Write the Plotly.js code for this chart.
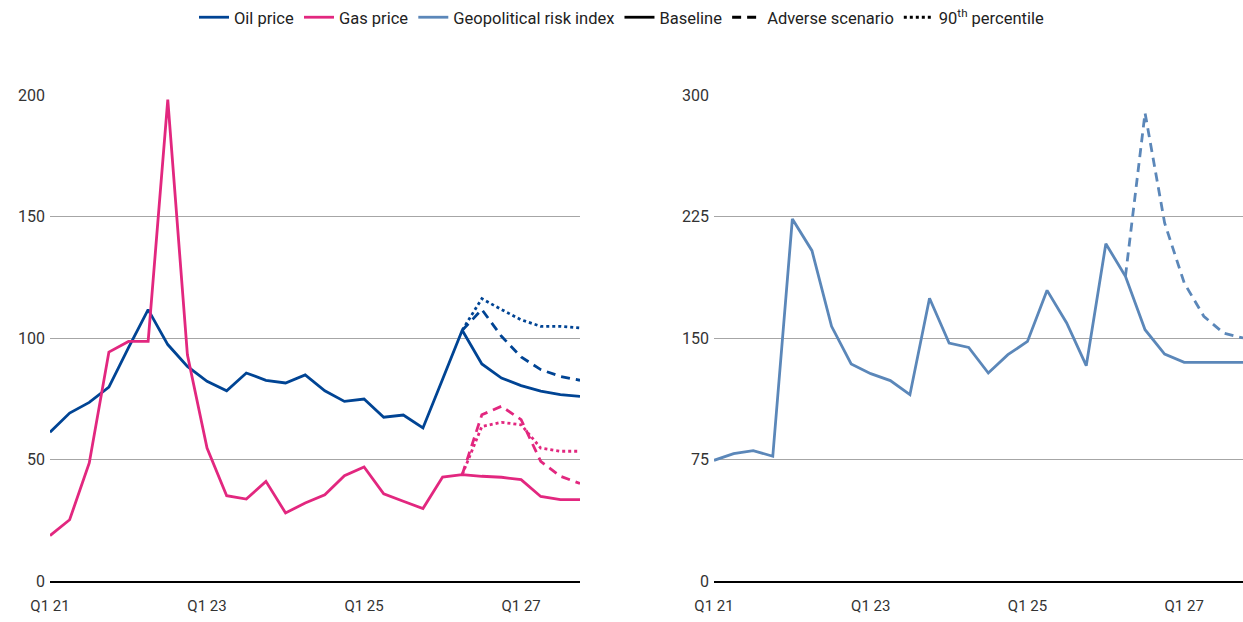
<!DOCTYPE html>
<html>
<head>
<meta charset="utf-8">
<script src="https://cdn.plot.ly/plotly-3.0.1.min.js"></script>
<style>
  html, body { margin: 0; padding: 0; background: #fff; }
  #chart { width: 1243px; height: 622px; }
</style>
</head>
<body>
<div id="chart"></div>
<script>
// Quarterly periods, Q1 2021 to Q4 2027
const quarters = [
  'Q1 21','Q2 21','Q3 21','Q4 21',
  'Q1 22','Q2 22','Q3 22','Q4 22',
  'Q1 23','Q2 23','Q3 23','Q4 23',
  'Q1 24','Q2 24','Q3 24','Q4 24',
  'Q1 25','Q2 25','Q3 25','Q4 25',
  'Q1 26','Q2 26','Q3 26','Q4 26',
  'Q1 27','Q2 27','Q3 27','Q4 27'
];
const tickQuarters = ['Q1 21','Q1 23','Q1 25','Q1 27'];

// Baseline paths
const oilBaseline = [61.2, 69.1, 73.5, 79.8, 96.0, 111.7, 97.3, 88.3, 82.2, 78.3,
                     85.6, 82.6, 81.5, 84.8, 78.3, 73.9, 74.9, 67.4, 68.3, 63.0,
                     83.0, 103.2, 89.3, 83.5, 80.4, 78.1, 76.7, 76.0];
const gasBaseline = [18.7, 25.2, 48.6, 94.2, 98.6, 98.6, 198.1, 93.1, 54.7, 35.1,
                     33.7, 41.0, 28.0, 32.1, 35.5, 43.3, 46.9, 35.9, 32.8, 29.8,
                     42.8, 43.8, 43.1, 42.7, 41.7, 34.8, 33.5, 33.5];
const gprBaseline = [74.5, 78.6, 80.5, 77.0, 223.5, 203.9, 157.2, 134.0, 128.0, 123.7,
                     115.0, 174.5, 146.9, 144.2, 128.4, 139.7, 147.9, 179.4, 159.3, 132.9,
                     208.2, 188.1, 155.1, 140.1, 135.0, 135.0, 135.0, 135.0];

// Scenario paths, starting from Q2 26
const scenarioQuarters = quarters.slice(21);
const oilAdverse = [103.2, 111.7, 100.7, 92.2, 87.0, 84.2, 82.6];
const oilP90     = [103.2, 116.2, 111.7, 107.5, 104.8, 104.8, 104.1];
const gasAdverse = [43.8, 68.4, 71.9, 66.4, 49.2, 43.1, 40.1];
const gasP90     = [43.8, 63.6, 65.3, 64.3, 54.7, 53.4, 53.4];
const gprAdverse = [188.1, 288.9, 221.0, 184.0, 163.4, 153.1, 150.0];

const OIL = '#004494', GAS = '#e2277f', GPR = '#5b87b9';
const W = 2.8;
const DASH = '9px,6px';
const DOT = '3px,3px';

function line(x, y, color, dash, axis, name, showlegend) {
  return {
    type: 'scatter', mode: 'lines', x: x, y: y,
    xaxis: axis === 2 ? 'x2' : 'x', yaxis: axis === 2 ? 'y2' : 'y',
    name: name || '', showlegend: !!showlegend, hoverinfo: 'skip',
    line: { color: color, width: W, dash: dash || 'solid' }
  };
}

const traces = [
  line(quarters, oilBaseline, OIL, 'solid', 1, 'Oil price', true),
  line(quarters, gasBaseline, GAS, 'solid', 1, 'Gas price', true),
  line(quarters, gprBaseline, GPR, 'solid', 2, 'Geopolitical risk index', true),
  line(scenarioQuarters, oilAdverse, OIL, DASH, 1),
  line(scenarioQuarters, oilP90, OIL, DOT, 1),
  line(scenarioQuarters, gasAdverse, GAS, DASH, 1),
  line(scenarioQuarters, gasP90, GAS, DOT, 1),
  line(scenarioQuarters, gprAdverse, GPR, DASH, 2),
  // style keys
  line([null], [null], '#000', 'solid', 1, 'Baseline', true),
  line([null], [null], '#000', DASH, 1, 'Adverse scenario', true),
  line([null], [null], '#000', DOT, 1, '90<sup>th</sup> percentile', true)
];

const FONT = 'Roboto, "Liberation Sans", sans-serif';

function xAxis(domain, anchor) {
  return {
    domain: domain, anchor: anchor, type: 'category',
    categoryorder: 'array', categoryarray: quarters,
    range: [0, 27], tickvals: tickQuarters, ticktext: tickQuarters,
    showgrid: false, zeroline: false, showline: true,
    linecolor: '#000', linewidth: 1.5,
    ticks: '', ticklabelstandoff: 10,
    tickfont: { family: FONT, size: 15, color: '#333' }, fixedrange: true
  };
}
function yAxis(max, step, anchor) {
  return {
    anchor: anchor, range: [0, max], dtick: step, tick0: 0,
    showgrid: true, gridcolor: '#a6a6a6', gridwidth: 1,
    zeroline: false, showline: false, ticks: '',
    ticklabelstandoff: 4,
    tickfont: { family: FONT, size: 16, color: '#333' }, fixedrange: true
  };
}

const layout = {
  width: 1243, height: 622,
  margin: { l: 0, r: 0, t: 95, b: 41 },
  paper_bgcolor: '#fff', plot_bgcolor: '#fff',
  font: { family: FONT, color: '#222' },
  showlegend: true,
  legend: {
    orientation: 'h', xref: 'container', yref: 'container',
    x: 0.5, xanchor: 'center', y: 1, yanchor: 'top',
    font: { family: FONT, size: 16.5, color: '#222' },
    itemwidth: 30, tracegroupgap: 0
  },
  xaxis: xAxis([50 / 1243, 580 / 1243], 'y'),
  yaxis: yAxis(200, 50, 'x'),
  xaxis2: xAxis([714 / 1243, 1], 'y2'),
  yaxis2: yAxis(300, 75, 'x2')
};

Plotly.newPlot('chart', traces, layout, { displayModeBar: false, staticPlot: true });
</script>
</body>
</html>
